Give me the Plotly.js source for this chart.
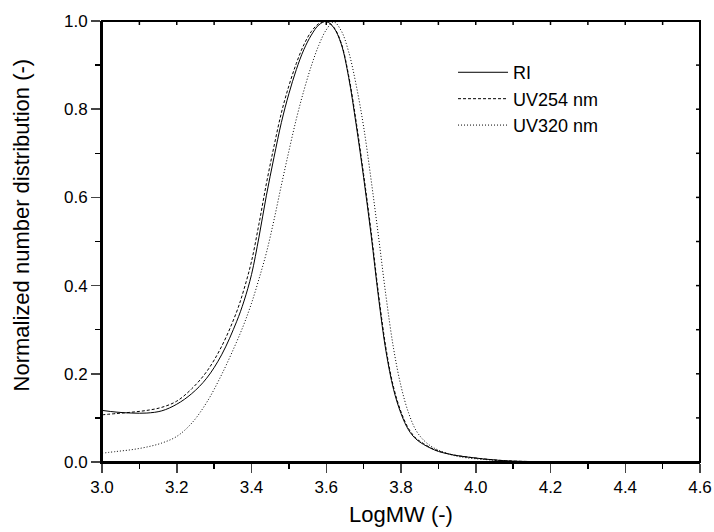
<!DOCTYPE html>
<html>
<head>
<meta charset="utf-8">
<script src="https://cdn.plot.ly/plotly-3.0.1.min.js"></script>
<style>html,body{margin:0;padding:0;background:#fff;}#chart{width:714px;height:532px;}</style>
</head>
<body>
<div id="chart"></div>
<script>
const logMW = [3.00, 3.04, 3.08, 3.12, 3.16, 3.20, 3.24, 3.28, 3.32, 3.36, 3.38, 3.40, 3.42, 3.44, 3.46, 3.48, 3.50, 3.52, 3.54, 3.56, 3.58, 3.60, 3.62, 3.64, 3.66, 3.68, 3.70, 3.72, 3.74, 3.76, 3.78, 3.80, 3.82, 3.84, 3.86, 3.88, 3.90, 3.94, 3.98, 4.02, 4.06, 4.10, 4.15, 4.20, 4.30, 4.60];
const riValues = [0.117, 0.113, 0.111, 0.111, 0.116, 0.131, 0.155, 0.190, 0.243, 0.318, 0.365, 0.425, 0.510, 0.605, 0.690, 0.770, 0.835, 0.890, 0.935, 0.968, 0.991, 0.999, 0.985, 0.948, 0.872, 0.765, 0.645, 0.515, 0.372, 0.250, 0.165, 0.110, 0.073, 0.052, 0.040, 0.031, 0.024, 0.016, 0.011, 0.007, 0.004, 0.002, 0.001, 0.0004, 0.0, 0.0];
const uv254Values = [0.107, 0.110, 0.113, 0.117, 0.124, 0.138, 0.166, 0.205, 0.262, 0.340, 0.392, 0.455, 0.540, 0.632, 0.715, 0.792, 0.853, 0.904, 0.946, 0.976, 0.994, 0.999, 0.986, 0.950, 0.876, 0.772, 0.652, 0.523, 0.380, 0.257, 0.170, 0.114, 0.076, 0.054, 0.042, 0.032, 0.025, 0.016, 0.011, 0.007, 0.004, 0.002, 0.001, 0.0004, 0.0, 0.0];
const uv320Values = [0.020, 0.024, 0.028, 0.034, 0.043, 0.058, 0.088, 0.135, 0.198, 0.272, 0.313, 0.360, 0.415, 0.475, 0.548, 0.628, 0.705, 0.778, 0.842, 0.898, 0.945, 0.980, 0.998, 0.978, 0.930, 0.855, 0.760, 0.640, 0.510, 0.375, 0.258, 0.172, 0.112, 0.072, 0.050, 0.036, 0.027, 0.015, 0.009, 0.006, 0.003, 0.0015, 0.0008, 0.0003, 0.0, 0.0];
const seriesNames = ["RI", "UV254 nm", "UV320 nm"];
const xTitle = "LogMW (-)";
const yTitle = "Normalized number distribution (-)";
const xRange = [3.0, 4.6];
const yRange = [0, 1.0];
const topTickValues = [3.1, 3.2, 3.3, 3.4, 3.5, 3.6, 3.7, 3.8, 3.9, 4.0, 4.1, 4.2, 4.3, 4.4, 4.5];
const rightTickValues = [0.1, 0.2, 0.3, 0.4, 0.5, 0.6, 0.7, 0.8, 0.9];

const font = "Liberation Sans, Arial, sans-serif";
const traces = [
  {x: logMW, y: riValues, name: seriesNames[0], mode: "lines", legendgroup: "a",
   line: {color: "#000", width: 1.0, shape: "spline", smoothing: 1}},
  {x: logMW, y: uv254Values, name: seriesNames[1], mode: "lines", legendgroup: "b",
   line: {color: "#000", width: 1.0, dash: "3px,2px", shape: "spline", smoothing: 1}},
  {x: logMW, y: uv320Values, name: seriesNames[2], mode: "lines", legendgroup: "c",
   line: {color: "#000", width: 1.0, dash: "1px,2px", shape: "spline", smoothing: 1}},
  // top and right edges of the plot frame, taken from the axis ranges
  {x: [xRange[0], xRange[1], xRange[1]], y: [yRange[1], yRange[1], yRange[0]], mode: "lines",
   showlegend: false, hoverinfo: "skip", cliponaxis: false, line: {color: "#000", width: 2}}
];

// plot frame and inward ticks on the top and right edges
const shapes = [{type: "rect", xref: "paper", yref: "paper", x0: 0, x1: 1, y0: 0, y1: 1,
                 line: {color: "#000", width: 2}, fillcolor: "rgba(0,0,0,0)", layer: "above"}];
topTickValues.forEach(v => shapes.push({type: "line", xref: "x", yref: "paper", ysizemode: "pixel", yanchor: 1,
  x0: v, x1: v, y0: 0, y1: -4, line: {color: "#000", width: 1.5}, layer: "above"}));
rightTickValues.forEach(v => shapes.push({type: "line", xref: "paper", yref: "y", xsizemode: "pixel", xanchor: 1,
  x0: 0, x1: -4, y0: v, y1: v, line: {color: "#000", width: 1.5}, layer: "above"}));

const layout = {
  width: 714, height: 532,
  margin: {l: 102, r: 14, t: 21, b: 70},
  paper_bgcolor: "#fff", plot_bgcolor: "#fff",
  font: {family: font, size: 17, color: "#000"},
  showlegend: true,
  legend: {x: 0.587, y: 0.925, xanchor: "left", yanchor: "top", bgcolor: "rgba(0,0,0,0)",
           font: {family: font, size: 18, color: "#000"}, tracegroupgap: 0, traceorder: "grouped", itemwidth: 50},
  xaxis: {range: xRange, dtick: 0.2, tick0: 3.0, tickformat: ".1f", ticks: "outside", ticklen: 9, tickwidth: 1.5,
          showline: true, linewidth: 2, linecolor: "#000", showgrid: false, zeroline: false,
          tickfont: {family: font, size: 17},
          minor: {dtick: 0.1, ticks: "outside", ticklen: 5, tickwidth: 1.5, tickcolor: "#000", showgrid: false},
          title: {text: xTitle, font: {family: font, size: 22}, standoff: 10}},
  yaxis: {range: yRange, dtick: 0.2, tick0: 0, tickformat: ".1f", ticks: "outside", ticklen: 9, tickwidth: 1.5,
          showline: true, linewidth: 2, linecolor: "#000", showgrid: false, zeroline: false,
          tickfont: {family: font, size: 17},
          minor: {dtick: 0.1, ticks: "outside", ticklen: 5, tickwidth: 1.5, tickcolor: "#000", showgrid: false}},
  shapes: shapes,
  annotations: [{text: yTitle, xref: "paper", yref: "paper", x: -0.135, y: 0.537, xanchor: "center", yanchor: "middle",
                 textangle: -90, showarrow: false, font: {family: font, size: 22, color: "#000"}}]
};
Plotly.newPlot("chart", traces, layout, {staticPlot: true, displayModeBar: false});
</script>
</body>
</html>
